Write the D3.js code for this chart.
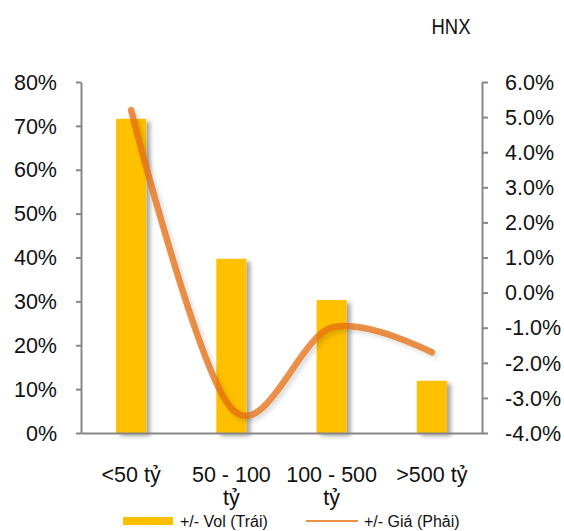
<!DOCTYPE html>
<html>
<head>
<meta charset="utf-8">
<script src="https://cdn.jsdelivr.net/npm/d3@7"></script>
<style>
  html, body { margin: 0; padding: 0; background: #fff; overflow: hidden; }
  svg { display: block; }
</style>
</head>
<body>
<div id="chart"></div>
<script>
const categories = ["<50 tỷ", "50 - 100 tỷ", "100 - 500 tỷ", ">500 tỷ"];
const volValues = [71.6, 39.7, 30.3, 11.9];   // +/- Vol (Trái), %
const priceValues = [5.2, -3.3, -1.0, -1.7];   // +/- Giá (Phải), %
const leftTicks = [0, 10, 20, 30, 40, 50, 60, 70, 80];
const rightTicks = [-4, -3, -2, -1, 0, 1, 2, 3, 4, 5, 6];
const seriesNames = ["+/- Vol (Trái)", "+/- Giá (Phải)"];
const title = "HNX";

const width = 564;
const height = 531;
const margin = { top: 82, right: 82, bottom: 98, left: 81 };

const barColor = "#FFC000";
const lineColor = "#E46C0A";
const axisColor = "#878787";
const font = "'Liberation Sans', Arial, sans-serif";

const svg = d3
  .select("#chart")
  .append("svg")
  .attr("width", width)
  .attr("height", height);

// drop shadows like the office chart
const defs = svg.append("defs");
defs
  .append("filter")
  .attr("id", "shadow")
  .attr("x", "-20%")
  .attr("y", "-20%")
  .attr("width", "160%")
  .attr("height", "160%")
  .append("feDropShadow")
  .attr("dx", 4)
  .attr("dy", 3)
  .attr("stdDeviation", 2.2)
  .attr("flood-color", "#000")
  .attr("flood-opacity", 0.35);

defs
  .append("filter")
  .attr("id", "lineShadow")
  .attr("x", "-20%")
  .attr("y", "-20%")
  .attr("width", "140%")
  .attr("height", "140%")
  .append("feDropShadow")
  .attr("dx", 3)
  .attr("dy", 3)
  .attr("stdDeviation", 2)
  .attr("flood-color", "#000")
  .attr("flood-opacity", 0.18);

// Scales (in page coordinates)
const x = d3
  .scaleBand()
  .domain(categories)
  .range([margin.left, width - margin.right])
  .padding(0);
const yLeft = d3.scaleLinear().domain([0, 80]).range([height - margin.bottom, margin.top]);
const yRight = d3.scaleLinear().domain([-4, 6]).range([height - margin.bottom, margin.top]);

const barWidth = x.bandwidth() * 0.3;
const cx = (c) => x(c) + x.bandwidth() / 2;

// Bars
svg
  .selectAll("rect.bar")
  .data(categories)
  .join("rect")
  .attr("class", "bar")
  .attr("x", (d) => cx(d) - barWidth / 2)
  .attr("y", (d, i) => yLeft(volValues[i]))
  .attr("width", barWidth)
  .attr("height", (d, i) => yLeft(0) - yLeft(volValues[i]))
  .attr("fill", barColor)
  .attr("filter", "url(#shadow)");

// Axis lines and ticks (labels drawn separately below)
function styleAxis(sel) {
  sel.select(".domain").attr("stroke", axisColor).attr("stroke-width", 2);
  sel.selectAll(".tick line").attr("stroke", axisColor).attr("stroke-width", 2);
  sel.selectAll(".tick text").remove();
}

svg
  .append("g")
  .attr("transform", `translate(${margin.left},0)`)
  .call(d3.axisLeft(yLeft).tickValues(leftTicks).tickSize(5).tickSizeOuter(0))
  .call(styleAxis);

svg
  .append("g")
  .attr("transform", `translate(${width - margin.right},0)`)
  .call(d3.axisRight(yRight).tickValues(rightTicks).tickSize(6).tickSizeOuter(0))
  .call(styleAxis);

svg
  .append("g")
  .attr("transform", `translate(0,${height - margin.bottom})`)
  .call(d3.axisBottom(x).tickSize(0).tickSizeOuter(0))
  .call(styleAxis);

// Tick labels
const fmtRight = (d) => d3.format(".1f")(d).replace("\u2212", "-") + "%";

const labels = svg.append("g").attr("font-family", font).attr("fill", "#111");

labels
  .selectAll("text.yl")
  .data(leftTicks)
  .join("text")
  .attr("class", "yl")
  .attr("x", margin.left - 24)
  .attr("y", (d) => yLeft(d))
  .attr("dy", "0.36em")
  .attr("text-anchor", "end")
  .attr("font-size", 21.5)
  .text((d) => d + "%");

labels
  .selectAll("text.yr")
  .data(rightTicks)
  .join("text")
  .attr("class", "yr")
  .attr("x", width - margin.right + 23)
  .attr("y", (d) => yRight(d))
  .attr("dy", "0.36em")
  .attr("text-anchor", "start")
  .attr("font-size", 21.5)
  .text(fmtRight);

const xLabels = labels
  .selectAll("text.xl")
  .data(categories)
  .join("text")
  .attr("class", "xl")
  .attr("x", (d) => cx(d))
  .attr("y", height - margin.bottom + 49)
  .attr("text-anchor", "middle")
  .attr("font-size", 21.5)
  .text((d) => d);
xLabels.call(wrap, x.bandwidth() - 2);

function wrap(texts, w) {
  texts.each(function () {
    const text = d3.select(this);
    const words = text.text().split(/\s+/);
    const tx = text.attr("x");
    const ty = +text.attr("y");
    let line = [];
    let lineNo = 0;
    let tspan = text.text(null).append("tspan").attr("x", tx).attr("y", ty);
    for (const word of words) {
      line.push(word);
      tspan.text(line.join(" "));
      if (tspan.node().getComputedTextLength() > w && line.length > 1) {
        line.pop();
        tspan.text(line.join(" "));
        line = [word];
        lineNo++;
        tspan = text
          .append("tspan")
          .attr("x", tx)
          .attr("y", ty + lineNo * 23)
          .text(word);
      }
    }
  });
}

// Smoothed price line
const line = d3
  .line()
  .x((d, i) => cx(categories[i]))
  .y((d) => yRight(d))
  .curve(d3.curveCatmullRom.alpha(0));

svg
  .append("path")
  .datum(priceValues)
  .attr("fill", "none")
  .attr("stroke", lineColor)
  .attr("stroke-opacity", 0.75)
  .attr("stroke-width", 6.5)
  .attr("stroke-linecap", "round")
  .attr("stroke-linejoin", "round")
  .attr("filter", "url(#lineShadow)")
  .attr("d", line);

// Title
svg
  .append("text")
  .attr("x", 451)
  .attr("y", 34)
  .attr("text-anchor", "middle")
  .attr("font-family", font)
  .attr("font-size", 22)
  .attr("textLength", 39)
  .attr("lengthAdjust", "spacingAndGlyphs")
  .attr("fill", "#111")
  .text(title);

// Legend
const legend = svg.append("g").attr("font-family", font).attr("font-size", 16).attr("fill", "#111");

legend
  .append("rect")
  .attr("x", 123)
  .attr("y", 517)
  .attr("width", 50)
  .attr("height", 8)
  .attr("fill", barColor);
legend.append("text").attr("x", 180).attr("y", 527).text(seriesNames[0]);

legend
  .append("line")
  .attr("x1", 306)
  .attr("x2", 358)
  .attr("y1", 521)
  .attr("y2", 521)
  .attr("stroke", lineColor)
  .attr("stroke-opacity", 0.75)
  .attr("stroke-width", 2);
legend.append("text").attr("x", 364).attr("y", 527).text(seriesNames[1]);
</script>
</body>
</html>
